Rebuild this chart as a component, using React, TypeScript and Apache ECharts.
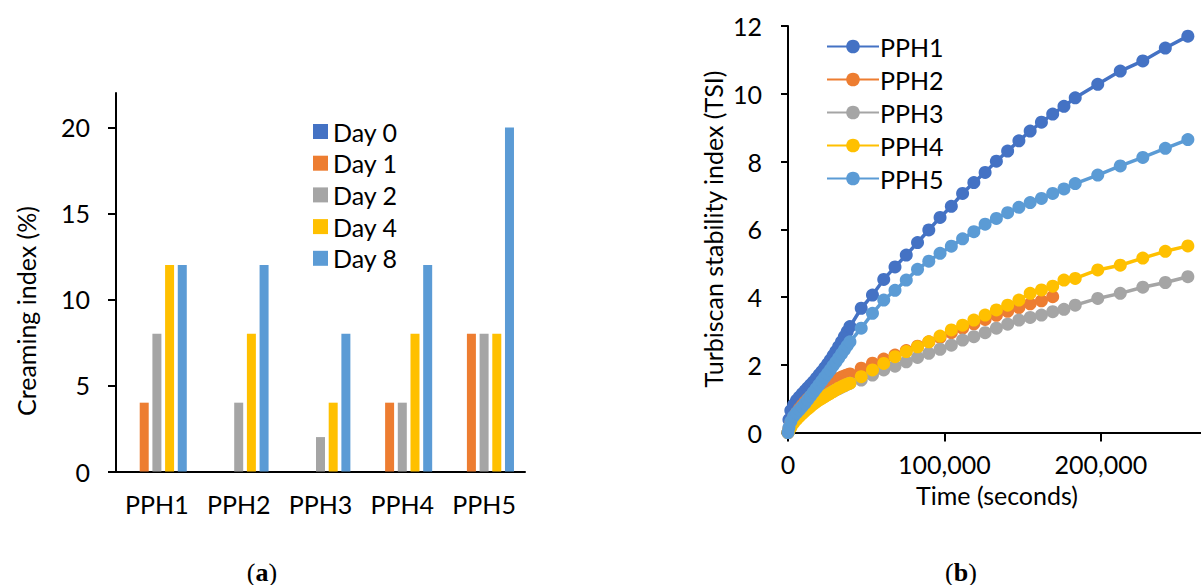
import React, { useEffect, useRef } from "react";
import * as echarts from "echarts";

// ---------- (a) Creaming index bar chart ----------
const barCategories = ["PPH1", "PPH2", "PPH3", "PPH4", "PPH5"];
const dayNames = ["Day 0", "Day 1", "Day 2", "Day 4", "Day 8"];
const day0 = [0, 0, 0, 0, 0];
const day1 = [4, 0, 0, 4, 8];
const day2 = [8, 4, 2, 4, 8];
const day4 = [12, 8, 4, 8, 8];
const day8 = [12, 12, 8, 12, 20];
const barColors = ["#4472C4", "#ED7D31", "#A5A5A5", "#FFC000", "#5B9BD5"];
const leftYTicks = [0, 5, 10, 15, 20];

// ---------- (b) Turbiscan stability index ----------
const timeDense = [0, 600, 1800, 3600, 5400, 7200, 9000, 10800, 12600, 14400, 16200, 18000, 19800, 21600, 23400, 25200, 27000, 28800, 30600, 32400, 34200, 36000, 37800, 39600];
const timeSparse = [46800, 54000, 61200, 68400, 75600, 82800, 90000, 97200, 104400, 111600, 118800, 126000, 133200, 140400, 147600, 154800, 162000, 169200, 176400, 183600, 198000, 212400, 226800, 241200, 255600];
const lineNames = ["PPH1", "PPH2", "PPH3", "PPH4", "PPH5"];
const lineColors = ["#4472C4", "#ED7D31", "#A5A5A5", "#FFC000", "#5B9BD5"];
const pph1 = [0, 0.38, 0.65, 0.82, 0.95, 1.05, 1.14, 1.23, 1.32, 1.41, 1.5, 1.6, 1.7, 1.8, 1.91, 2.02, 2.14, 2.27, 2.4, 2.54, 2.68, 2.83, 2.98, 3.13,
  3.67, 4.06, 4.52, 4.89, 5.24, 5.61, 5.98, 6.35, 6.68, 7.06, 7.38, 7.68, 8.01, 8.31, 8.61, 8.9, 9.16, 9.4, 9.63, 9.88, 10.28, 10.67, 10.97, 11.35, 11.7];
const pph2 = [0, 0.12, 0.28, 0.45, 0.58, 0.7, 0.8, 0.9, 0.99, 1.07, 1.14, 1.21, 1.27, 1.33, 1.38, 1.43, 1.48, 1.52, 1.56, 1.6, 1.64, 1.67, 1.7, 1.73,
  1.9, 2.05, 2.17, 2.29, 2.42, 2.55, 2.68, 2.81, 2.95, 3.08, 3.21, 3.34, 3.46, 3.58, 3.69, 3.8, 3.89, 4.01];
const pph3 = [0, 0.08, 0.2, 0.33, 0.43, 0.52, 0.6, 0.67, 0.74, 0.8, 0.86, 0.92, 0.97, 1.02, 1.07, 1.12, 1.17, 1.22, 1.26, 1.3, 1.34, 1.38, 1.42, 1.46,
  1.55, 1.7, 1.85, 1.96, 2.09, 2.22, 2.34, 2.46, 2.58, 2.73, 2.83, 2.95, 3.08, 3.2, 3.32, 3.4, 3.47, 3.57, 3.64, 3.76, 3.96, 4.11, 4.29, 4.43, 4.6];
const pph4 = [0, 0.05, 0.15, 0.28, 0.38, 0.47, 0.55, 0.63, 0.7, 0.77, 0.84, 0.9, 0.96, 1.01, 1.06, 1.11, 1.16, 1.21, 1.26, 1.31, 1.35, 1.39, 1.43, 1.46,
  1.65, 1.85, 2.04, 2.24, 2.39, 2.53, 2.68, 2.85, 3.03, 3.17, 3.32, 3.47, 3.62, 3.76, 3.91, 4.11, 4.21, 4.32, 4.5, 4.55, 4.8, 4.94, 5.15, 5.35, 5.51];
const pph5 = [0, 0.15, 0.33, 0.48, 0.58, 0.67, 0.76, 0.86, 0.97, 1.08, 1.19, 1.3, 1.41, 1.52, 1.63, 1.74, 1.85, 1.97, 2.08, 2.2, 2.32, 2.44, 2.56, 2.68,
  3.08, 3.52, 3.91, 4.2, 4.5, 4.82, 5.06, 5.29, 5.5, 5.72, 5.93, 6.15, 6.32, 6.49, 6.65, 6.79, 6.91, 7.06, 7.19, 7.35, 7.6, 7.87, 8.12, 8.39, 8.65];
const rightXTicks = [0, 100000, 200000];
const rightYTicks = [0, 2, 4, 6, 8, 10, 12];

const FONT = "Lato";
const FS = 25;

export default function App() {
  const ref = useRef<HTMLDivElement>(null);

  useEffect(() => {
    if (!ref.current) return;
    const chart = echarts.init(ref.current, null, { renderer: "svg" });
    const allTimes = [...timeDense, ...timeSparse];
    const lineData = [pph1, pph2, pph3, pph4, pph5].map((vals) =>
      vals.map((v, i) => [allTimes[i], v])
    );
    const barData = [day0, day1, day2, day4, day8];
    const axisLine = { show: true, lineStyle: { color: "#000", width: 2 } };
    const labelStyle = { color: "#000", fontFamily: FONT, fontSize: FS };

    const option: any = {
      animation: false,
      backgroundColor: "#fff",
      textStyle: { fontFamily: FONT },
      grid: [
        { left: 116, top: 93, width: 409, height: 378.5, containLabel: false },
        { left: 788, top: 26, width: 413, height: 406.6, containLabel: false },
      ],
      xAxis: [
        {
          type: "category",
          gridIndex: 0,
          data: barCategories,
          axisLine,
          axisTick: { show: false },
          axisLabel: { ...labelStyle, margin: 20, interval: 0, hideOverlap: false },
          splitLine: { show: false },
        },
        {
          type: "value",
          gridIndex: 1,
          min: 0,
          max: 264000,
          interval: 100000,
          axisLine: { ...axisLine, onZero: false },
          axisTick: { show: true, inside: false, length: 9, lineStyle: { color: "#000", width: 2 }, customValues: rightXTicks },
          axisLabel: {
            ...labelStyle,
            margin: 19,
            customValues: rightXTicks,
            formatter: (v: number) => v.toLocaleString("en-US"),
          },
          splitLine: { show: false },
        },
      ],
      yAxis: [
        {
          type: "value",
          gridIndex: 0,
          min: 0,
          max: 22,
          interval: 5,
          axisLine,
          axisTick: { show: true, length: 8, lineStyle: { color: "#000", width: 2 }, customValues: leftYTicks },
          axisLabel: { ...labelStyle, margin: 26, customValues: leftYTicks },
          splitLine: { show: false },
        },
        {
          type: "value",
          gridIndex: 1,
          min: 0,
          max: 12,
          interval: 2,
          axisLine: { ...axisLine, onZero: false },
          axisTick: { show: true, length: 7, lineStyle: { color: "#000", width: 2 }, customValues: rightYTicks },
          axisLabel: { ...labelStyle, margin: 26, customValues: rightYTicks },
          splitLine: { show: false },
        },
      ],
      legend: [
        {
          data: dayNames,
          orient: "vertical",
          left: 308,
          top: 114,
          itemWidth: 15,
          itemHeight: 15,
          itemGap: 6.7,
          icon: "rect",
          textStyle: { ...labelStyle, padding: [0, 0, 0, 0] },
        },
        {
          data: lineNames,
          orient: "vertical",
          left: 821,
          top: 29,
          itemWidth: 52,
          itemHeight: 17,
          itemGap: 8,
          textStyle: { ...labelStyle, padding: [0, 0, 0, -4] },
        },
      ],
      series: [
        ...dayNames.map((name, i) => ({
          name,
          type: "bar",
          xAxisIndex: 0,
          yAxisIndex: 0,
          data: barData[i],
          barWidth: 9,
          barGap: "41%",
          itemStyle: { color: barColors[i] },
        })),
        ...lineNames.map((name, i) => ({
          name,
          type: "line",
          xAxisIndex: 1,
          yAxisIndex: 1,
          data: lineData[i],
          symbol: "circle",
          symbolSize: 13,
          showSymbol: true,
          showAllSymbol: true,
          lineStyle: { color: lineColors[i], width: 3.5 },
          itemStyle: { color: lineColors[i] },
        })),
      ],
      graphic: [
        {
          type: "text",
          x: 26,
          y: 311,
          rotation: Math.PI / 2,
          style: { text: "Creaming index (%)", fill: "#000", font: `${FS}px ${FONT}`, align: "center", verticalAlign: "middle" },
        },
        {
          type: "text",
          x: 713,
          y: 229,
          rotation: Math.PI / 2,
          style: { text: "Turbiscan stability index (TSI)", fill: "#000", font: `${FS}px ${FONT}`, align: "center", verticalAlign: "middle" },
        },
        {
          type: "text",
          x: 997,
          y: 495,
          style: { text: "Time (seconds)", fill: "#000", font: `${FS}px ${FONT}`, align: "center", verticalAlign: "middle" },
        },
        {
          type: "text",
          x: 262,
          y: 572,
          style: {
            text: "{p|(}{b|a}{p|)}",
            align: "center",
            verticalAlign: "middle",
            rich: {
              p: { fontFamily: "Liberation Serif", fontSize: 26, fill: "#000", color: "#000" },
              b: { fontFamily: "Liberation Serif", fontSize: 26, fontWeight: "bold", fill: "#000", color: "#000" },
            },
          },
        },
        {
          type: "text",
          x: 961,
          y: 572,
          style: {
            text: "{p|(}{b|b}{p|)}",
            align: "center",
            verticalAlign: "middle",
            rich: {
              p: { fontFamily: "Liberation Serif", fontSize: 26, fill: "#000", color: "#000" },
              b: { fontFamily: "Liberation Serif", fontSize: 26, fontWeight: "bold", fill: "#000", color: "#000" },
            },
          },
        },
      ],
    };
    chart.setOption(option);
    return () => chart.dispose();
  }, []);

  return (
    <div
      ref={ref}
      style={{ position: "absolute", left: 0, top: 0, width: 1201, height: 585, background: "#fff" }}
    />
  );
}
